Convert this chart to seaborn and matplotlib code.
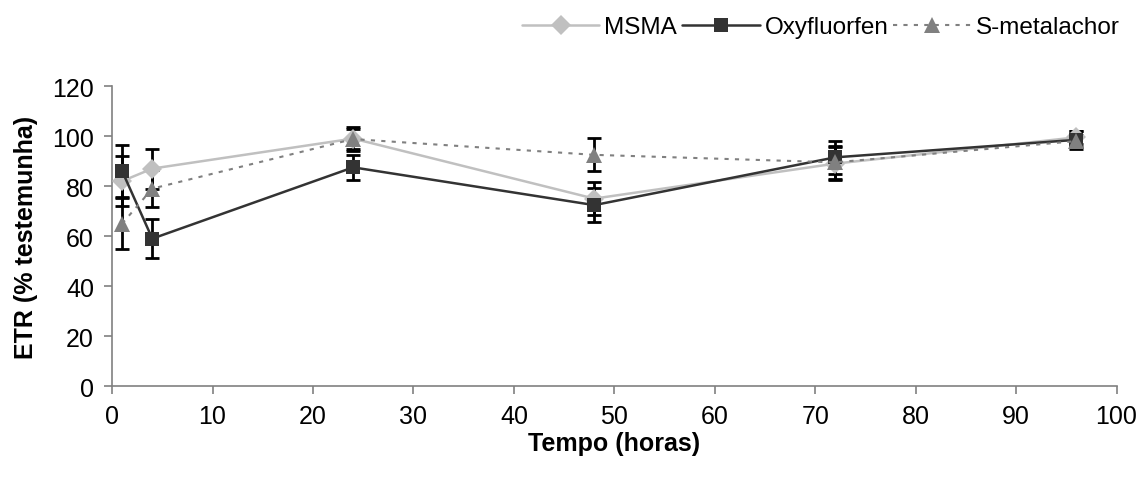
import numpy as np
import pandas as pd
import matplotlib
matplotlib.use("Agg")
import matplotlib.pyplot as plt
import seaborn as sns

tempo = [1, 4, 24, 48, 72, 96]
msma = [82, 87, 99, 75, 89, 99.5]
msma_err = [10, 8, 4, 6.7, 6.5, 2.5]
oxy = [86, 59, 87.5, 72.4, 91.5, 98.5]
oxy_err = [10.5, 7.7, 5, 6.9, 6.5, 3.5]
smet = [65, 79, 98.8, 92.5, 89.5, 98]
smet_err = [10.3, 7.5, 4.7, 6.6, 6.5, 2.5]
series = ["MSMA", "Oxyfluorfen", "S-metalachor"]

df = pd.concat([
    pd.DataFrame({"Tempo": tempo, "ETR": msma, "err": msma_err, "s": series[0]}),
    pd.DataFrame({"Tempo": tempo, "ETR": oxy, "err": oxy_err, "s": series[1]}),
    pd.DataFrame({"Tempo": tempo, "ETR": smet, "err": smet_err, "s": series[2]}),
])

sns.set_style("white")
plt.rcParams["font.family"] = ["Liberation Sans", "DejaVu Sans"]
plt.rcParams["text.color"] = "black"
plt.rcParams["axes.labelcolor"] = "black"
plt.rcParams["xtick.color"] = "black"
plt.rcParams["ytick.color"] = "black"

fig = plt.figure(figsize=(11.44, 4.81), dpi=100)
ax = fig.add_axes([0.098, 0.195, 0.878, 0.624])

colors = {"MSMA": "#c0c0c0", "Oxyfluorfen": "#333333", "S-metalachor": "#808080"}
markers = {"MSMA": "D", "Oxyfluorfen": "s", "S-metalachor": "^"}
dashes = {"MSMA": "", "Oxyfluorfen": "", "S-metalachor": (2, 3)}

for s in series:
    d = df[df.s == s]
    ax.errorbar(d.Tempo, d.ETR, yerr=d.err, fmt="none", ecolor="black",
                elinewidth=2, capsize=5, capthick=2, zorder=2)

sns.lineplot(data=df, x="Tempo", y="ETR", hue="s", style="s",
             palette=colors, markers=markers, dashes=dashes,
             linewidth=1.8, markersize=10, markeredgewidth=0,
             estimator=None, ax=ax, zorder=3, legend=True)
for ln in ax.get_lines():
    if ln.get_marker() == "^":
        ln.set_markersize(12)
        ln.set_linewidth(1.5)

ax.set_xlim(0, 100)
ax.set_ylim(0, 120)
ax.set_xticks(np.arange(0, 101, 10))
ax.set_yticks(np.arange(0, 121, 20))
for sp in ["top", "right"]:
    ax.spines[sp].set_visible(False)
for sp in ["left", "bottom"]:
    ax.spines[sp].set_color("#808080")
    ax.spines[sp].set_linewidth(1.2)
ax.tick_params(axis="both", which="major", labelsize=18, direction="out",
               length=6, width=1.2, color="#808080", labelcolor="black",
               bottom=True, left=True, pad=7)
ax.set_xlabel("Tempo (horas)", fontsize=18, fontweight="bold", labelpad=2,
              color="black")
ax.set_ylabel("ETR (% testemunha)", fontsize=18, fontweight="bold", labelpad=10,
              color="black")

h, l = ax.get_legend_handles_labels()
for hh in h:
    if hh.get_marker() == "^":
        hh.set_markersize(12)
        hh.set_linewidth(1.5)
leg = ax.legend(h, l, loc="upper right", bbox_to_anchor=(0.998, 1.01),
                bbox_transform=fig.transFigure, ncol=3, frameon=False,
                fontsize=17.5, handlelength=3.2, columnspacing=0.2,
                handletextpad=0.2)
for t in leg.get_texts():
    t.set_color("black")

fig.savefig("out.png", dpi=100)
